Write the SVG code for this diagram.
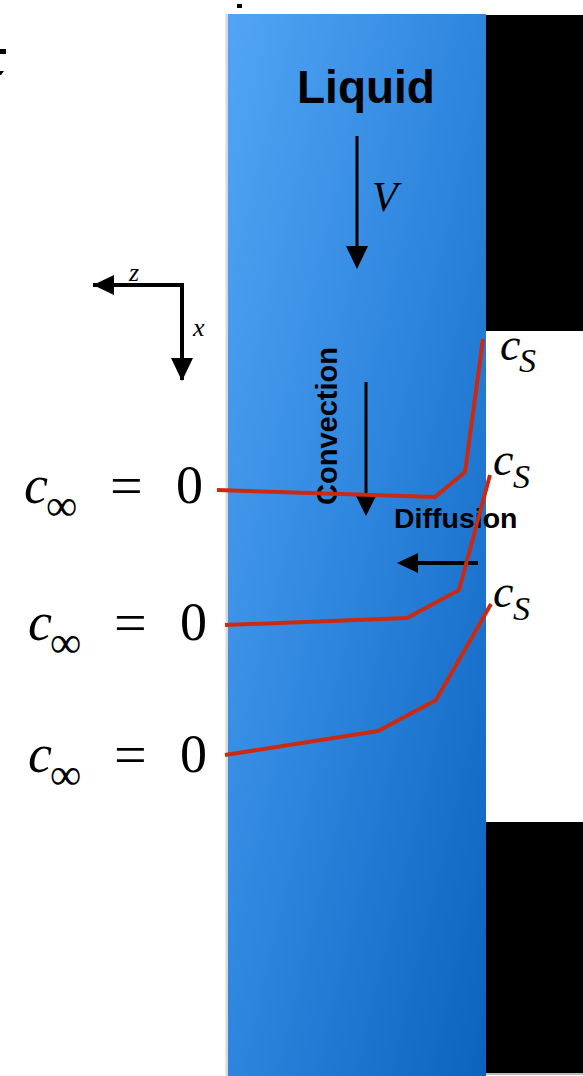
<svg xmlns="http://www.w3.org/2000/svg" width="583" height="1076" viewBox="0 0 583 1076">
<defs>
<linearGradient id="liq" gradientUnits="userSpaceOnUse" x1="228" y1="14" x2="715" y2="132">
<stop offset="0" stop-color="#52a5f5"/>
<stop offset="0.5" stop-color="#2e85dd"/>
<stop offset="1" stop-color="#0b63bf"/>
</linearGradient>
</defs>
<style>
.red{stroke:#cc2a10;stroke-width:4;fill:none;stroke-linejoin:miter}
.sans{font-family:"Liberation Sans",Arial,sans-serif;font-weight:bold;fill:#000}
.math{font-family:"Liberation Serif","Times New Roman",serif;fill:#000}
.it{font-style:italic}
</style>
<rect x="0" y="0" width="583" height="1076" fill="#fff"/>
<rect x="0" y="49" width="6" height="5" fill="#000"/>
<polygon points="0,71 4,71 1,75 0,75" fill="#000"/>
<rect x="237" y="4" width="5" height="4" fill="#000"/>
<g id="liquid">
<rect x="225.5" y="14" width="3" height="1062" fill="#d8d8d8"/>
<rect x="228" y="14" width="258" height="1062" fill="url(#liq)"/>
<text class="sans" x="366" y="103" font-size="46" text-anchor="middle">Liquid</text>
</g>
<g id="wall-top"><rect x="486" y="15" width="97" height="316" fill="#000"/></g>
<g id="wall-bottom"><rect x="486" y="822" width="97" height="251" fill="#000"/><rect x="486" y="1073" width="97" height="2" fill="#bbb"/></g>
<g id="axes">
<polyline points="182,380 182,285 93,285" stroke="#000" stroke-width="4" fill="none" stroke-linejoin="miter"/>
<polygon points="93,285 114,275 114,295" fill="#000"/>
<polygon points="182,381 171,358 193,358" fill="#000"/>
<text class="math it" x="129" y="281" font-size="26">z</text>
<text class="math it" x="193" y="336" font-size="26">x</text>
</g>
<g id="labels">
<text class="math it" x="372" y="211" font-size="42">V</text>
<text class="sans" transform="translate(337,426) rotate(-90)" font-size="29" text-anchor="middle">Convection</text>
<text class="sans" x="394" y="528" font-size="28.5">Diffusion</text>
</g>
<g id="connectors">
<line x1="357" y1="136" x2="357" y2="250" stroke="#000" stroke-width="3"/>
<polygon points="357,269 346,246 368,246" fill="#000"/>
<line x1="366" y1="382" x2="366" y2="498" stroke="#000" stroke-width="3"/>
<polygon points="366,516 356,496 376,496" fill="#000"/>
<line x1="478" y1="563" x2="414" y2="563" stroke="#000" stroke-width="4"/>
<polygon points="397,563 418,553 418,573" fill="#000"/>
<polyline class="red" points="217,490 435,497 465,472 483,339"/>
<polyline class="red" points="225,625 407,618 459,590 490,475"/>
<polyline class="red" points="225,755 378,731 436,700 491,604"/>
</g>
<g id="cs1"><text class="math it" x="500" y="360" font-size="46">c</text><text class="math it" x="519" y="372" font-size="34">S</text></g>
<g id="cs2"><text class="math it" x="493" y="475" font-size="46">c</text><text class="math it" x="513" y="488" font-size="34">S</text></g>
<g id="cs3"><text class="math it" x="493" y="607" font-size="46">c</text><text class="math it" x="513" y="620" font-size="34">S</text></g>
<g id="cinf1">
<text class="math it" x="24" y="503" font-size="54">c</text>
<text class="math" x="46" y="520" font-size="44">∞</text>
<text class="math" x="110" y="505" font-size="58">=</text>
<text class="math" x="176" y="503" font-size="54">0</text>
</g>
<g id="cinf2">
<text class="math it" x="28" y="640" font-size="54">c</text>
<text class="math" x="50" y="657" font-size="44">∞</text>
<text class="math" x="114" y="642" font-size="58">=</text>
<text class="math" x="180" y="640" font-size="54">0</text>
</g>
<g id="cinf3">
<text class="math it" x="28" y="772" font-size="54">c</text>
<text class="math" x="50" y="789" font-size="44">∞</text>
<text class="math" x="114" y="774" font-size="58">=</text>
<text class="math" x="180" y="772" font-size="54">0</text>
</g>
</svg>
